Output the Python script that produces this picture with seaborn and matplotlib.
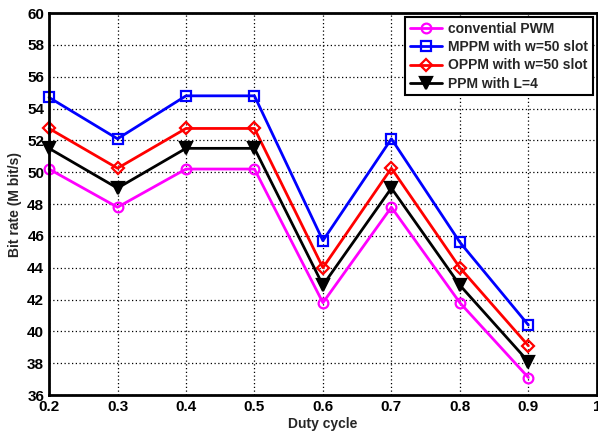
import numpy as np
import pandas as pd
import seaborn as sns
import matplotlib
matplotlib.use("Agg")
import matplotlib.pyplot as plt

# values
duty = [0.2, 0.3, 0.4, 0.5, 0.6, 0.7, 0.8, 0.9]
pwm = [50.2, 47.8, 50.2, 50.2, 41.8, 47.8, 41.8, 37.1]
mppm = [54.7, 52.1, 54.8, 54.8, 45.7, 52.1, 45.6, 40.4]
oppm = [52.75, 50.25, 52.75, 52.75, 44.0, 50.25, 44.0, 39.1]
ppm = [51.5, 49.0, 51.5, 51.5, 42.9, 49.0, 42.9, 38.1]
labels = ["convential PWM", "MPPM with w=50 slot", "OPPM with w=50 slot", "PPM with L=4"]

sns.set_style("white")
plt.rcParams['font.family'] = ['Liberation Sans', 'DejaVu Sans']
plt.rcParams['font.weight'] = 'bold'

fig = plt.figure(figsize=(5.98, 4.36), dpi=100)
ax = fig.add_axes([0.082, 0.094, 0.916, 0.876])

series = [(pwm, "#ff00ff", "o"), (mppm, "#0000ff", "s"), (oppm, "#ff0000", "D"), (ppm, "#000000", "v")]
for (vals, col, mk), lab in zip(series, labels):
    df = pd.DataFrame({"duty": duty, "rate": vals})
    ms = 9 if mk == "v" else 7
    if mk == "D":
        ms = 6
    sns.lineplot(data=df, x="duty", y="rate", ax=ax, color=col, linewidth=2,
                 marker=mk, markersize=ms, markeredgewidth=1.6,
                 markerfacecolor=col if mk == "v" else "none",
                 markeredgecolor=col, label=lab, clip_on=False)

ax.set_xlim(0.2, 1.0)
ax.set_ylim(36, 60)
ax.set_xticks(np.arange(0.2, 1.01, 0.1))
ax.set_xticklabels(["0.2", "0.3", "0.4", "0.5", "0.6", "0.7", "0.8", "0.9", "1"])
ax.set_yticks(np.arange(36, 61, 2))
ax.grid(True, color="black", linestyle=(0, (1, 2)), linewidth=0.9)
ax.tick_params(direction="in", length=4, width=1.5, labelsize=11, colors="black")
for lbl in ax.get_xticklabels() + ax.get_yticklabels():
    lbl.set_fontweight("bold")
for sp in ax.spines.values():
    sp.set_linewidth(2)
    sp.set_color("black")
ax.set_xlabel("Duty cycle", fontsize=10, fontweight="bold", labelpad=2)
ax.set_ylabel("Bit rate (M bit/s)", fontsize=10, fontweight="bold", labelpad=4)

leg = ax.legend(loc="upper right", fontsize=10, frameon=True, fancybox=False,
                handlelength=2.3, borderpad=0.35, labelspacing=0.3,
                handletextpad=0.4, borderaxespad=0.3)
leg.get_frame().set_edgecolor("black")
leg.get_frame().set_linewidth(1.5)
leg.get_frame().set_alpha(1)
for t in leg.get_texts():
    t.set_fontweight("bold")

fig.savefig("out.png", dpi=100)
